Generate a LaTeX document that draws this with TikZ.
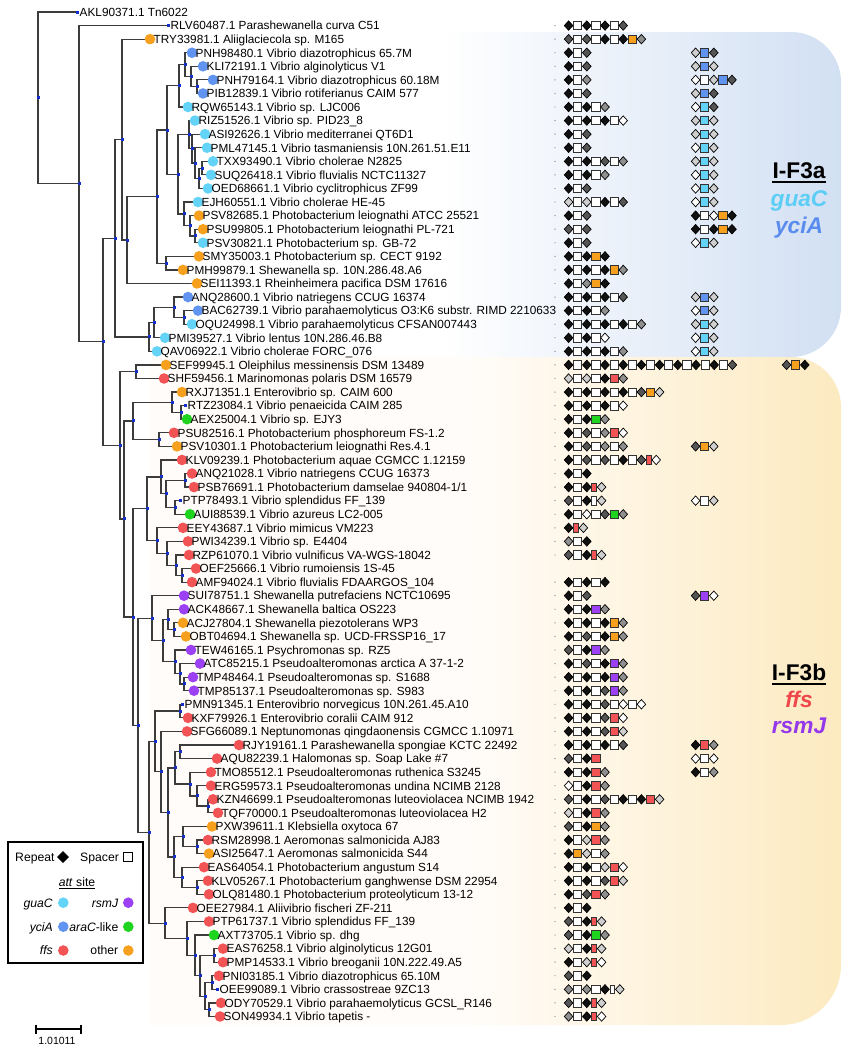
\documentclass[tikz,border=0pt]{standalone}
\usepackage{fontspec}
\setmainfont{Liberation Sans}
\usetikzlibrary{calc}
\pgfdeclarelayer{bg}\pgfdeclarelayer{edges}\pgfsetlayers{bg,edges,main}
\definecolor{cO}{HTML}{F7A01E}
\definecolor{cB}{HTML}{6193F0}
\definecolor{cC}{HTML}{63D3F7}
\definecolor{cR}{HTML}{F25355}
\definecolor{cG}{HTML}{1FD41F}
\definecolor{cP}{HTML}{9B40F2}
\definecolor{ndc}{HTML}{1530C8}
\definecolor{brc}{HTML}{3C3C3C}
\definecolor{dK}{HTML}{111111}
\definecolor{dD}{HTML}{555555}
\definecolor{dG}{HTML}{8F8F8F}
\definecolor{dL}{HTML}{CFCFCF}
\definecolor{bsR}{HTML}{D2E0F3}
\definecolor{osR}{HTML}{FCEAC0}
\definecolor{osL}{HTML}{FFFCF9}
\definecolor{tC}{HTML}{5CCDF5}
\definecolor{tB}{HTML}{5A8BEE}
\definecolor{tR}{HTML}{F0484A}
\definecolor{tP}{HTML}{9438EC}
\pgfdeclarehorizontalshading{bshade}{100bp}{color(0bp)=(white); color(46bp)=(white); color(75bp)=(bsR); color(100bp)=(bsR)}
\pgfdeclarehorizontalshading{oshade}{100bp}{color(0bp)=(osL); color(48bp)=(osL); color(75bp)=(osR); color(100bp)=(osR)}
\tikzset{
 br/.style={draw=brc, line width=1.2pt, line join=miter},
 nd/.style={rectangle, fill=ndc, inner sep=0pt, minimum size=3pt},
 ldot/.style={circle, inner sep=0pt, minimum size=10.6pt},
 lab/.style={anchor=base west, inner sep=0pt, font=\fontsize{11.8}{13}\selectfont},
 lgt/.style={inner sep=0pt, font=\fontsize{12.2}{14}\selectfont},
 grp/.style={inner sep=0pt, anchor=base, font=\fontsize{22.7}{26}\selectfont\bfseries},
 dmst/.style={draw=black, line width=0.7pt, line join=miter},
 sqst/.style={draw=black!80, line width=0.7pt},
}
\newcommand\leafc[4]{\node[ldot, fill=#3] (L#1) at (#2,#1) {};
  \node[lab] (T#1) at ([xshift=3.5pt,yshift=-4.3pt]L#1.center) {#4};}
\newcommand\leafn[3]{\node[nd] (L#1) at (#2,#1) {};
  \node[lab] (T#1) at ([xshift=2.5pt,yshift=-4.3pt]L#1.center) {#3};}
\newcommand\inode[3]{\node[nd] (#1) at (#2,#3) {};}
\newcommand\ed[2]{\foreach \chn in {#2}{\draw[br] (#1.center) |- (\chn.center);}}
\newcommand\dm[1]{\filldraw[dmst, fill=#1] (\cx,\crow) ++(0.3pt,0pt) -- ++(4.3pt,4.7pt) -- ++(4.3pt,-4.7pt) -- ++(-4.3pt,-4.7pt) -- cycle;
  \pgfmathsetmacro\crtmp{\cx+9.1}\xdef\cx{\crtmp}}
\newcommand\sq[2]{\filldraw[sqst, fill=#1] ([xshift=0.45pt,yshift=-4.2pt]\cx,\crow) rectangle ++(#2pt,8.4pt);
  \pgfmathsetmacro\crtmp{\cx+#2+0.9}\xdef\cx{\crtmp}}
\def\arrelK{\dm{dK}}\def\arrelD{\dm{dD}}\def\arrelG{\dm{dG}}\def\arrelL{\dm{dL}}\def\arrelW{\dm{white}}
\def\arrels{\sq{white}{8.2}}\def\arrelo{\sq{cO}{8.2}}\def\arrelb{\sq{cB}{8.2}}\def\arrelc{\sq{cC}{8.2}}
\def\arrelr{\sq{cR}{8.2}}\def\arrelg{\sq{cG}{8.2}}\def\arrelp{\sq{cP}{8.2}}
\def\arreln{\sq{cR}{4.8}}\def\arrelm{\sq{white}{4.8}}
\newcommand\arr[3]{\xdef\cx{#1}\xdef\crow{#2}\foreach \arrk in {#3}{\csname arrel\arrk\endcsname}}
\begin{document}
\begin{tikzpicture}[x=1pt,y=-1pt]
\useasboundingbox (0,0) rectangle (850,1050);
\begin{pgfonlayer}{bg}
\shade[shading=bshade] (150,32) -- (791,32) .. controls (818.6,32) and (841,54.4) .. (841,82) -- (841,307) .. controls (841,334.6) and (818.6,357) .. (791,357) -- (150,357) -- cycle;
\shade[shading=oshade] (150,357) -- (791,357) .. controls (818.6,357) and (841,379.4) .. (841,407) -- (841,965) .. controls (841,998) and (814,1025) .. (781,1025) -- (150,1025) -- cycle;
\end{pgfonlayer}
\begin{scope}[y=-13.574pt, yshift=1.574pt]
\leafn{1}{77}{AKL90371.1 Tn6022}
\leafn{2}{168}{RLV60487.1 Parashewanella curva C51}
\leafc{3}{150}{cO}{TRY33981.1 Aliiglaciecola sp. M165}
\leafc{4}{192}{cB}{PNH98480.1 Vibrio diazotrophicus 65.7M}
\leafc{5}{203}{cB}{KLI72191.1 Vibrio alginolyticus V1}
\leafc{6}{213}{cB}{PNH79164.1 Vibrio diazotrophicus 60.18M}
\leafc{7}{203}{cB}{PIB12839.1 Vibrio rotiferianus CAIM 577}
\leafc{8}{188}{cC}{RQW65143.1 Vibrio sp. LJC006}
\leafc{9}{195}{cC}{RIZ51526.1 Vibrio sp. PID23\_8}
\leafc{10}{205}{cC}{ASI92626.1 Vibrio mediterranei QT6D1}
\leafc{11}{207}{cC}{PML47145.1 Vibrio tasmaniensis 10N.261.51.E11}
\leafc{12}{213}{cC}{TXX93490.1 Vibrio cholerae N2825}
\leafc{13}{211}{cC}{SUQ26418.1 Vibrio fluvialis NCTC11327}
\leafc{14}{208}{cC}{OED68661.1 Vibrio cyclitrophicus ZF99}
\leafc{15}{198}{cC}{EJH60551.1 Vibrio cholerae HE-45}
\leafc{16}{199}{cO}{PSV82685.1 Photobacterium leiognathi ATCC 25521}
\leafc{17}{203}{cO}{PSU99805.1 Photobacterium leiognathi PL-721}
\leafc{18}{203}{cC}{PSV30821.1 Photobacterium sp. GB-72}
\leafc{19}{199}{cO}{SMY35003.1 Photobacterium sp. CECT 9192}
\leafc{20}{183}{cO}{PMH99879.1 Shewanella sp. 10N.286.48.A6}
\leafc{21}{197}{cO}{SEI11393.1 Rheinheimera pacifica DSM 17616}
\leafc{22}{188}{cB}{ANQ28600.1 Vibrio natriegens CCUG 16374}
\leafc{23}{198}{cB}{BAC62739.1 Vibrio parahaemolyticus O3:K6 substr. RIMD 2210633}
\leafc{24}{192}{cC}{OQU24998.1 Vibrio parahaemolyticus CFSAN007443}
\leafc{25}{165}{cC}{PMI39527.1 Vibrio lentus 10N.286.46.B8}
\leafc{26}{157}{cC}{QAV06922.1 Vibrio cholerae FORC\_076}
\leafc{27}{166}{cO}{SEF99945.1 Oleiphilus messinensis DSM 13489}
\leafc{28}{164}{cR}{SHF59456.1 Marinomonas polaris DSM 16579}
\leafc{29}{182}{cO}{RXJ71351.1 Enterovibrio sp. CAIM 600}
\leafn{30}{185}{RTZ23084.1 Vibrio penaeicida CAIM 285}
\leafc{31}{187}{cG}{AEX25004.1 Vibrio sp. EJY3}
\leafc{32}{174}{cR}{PSU82516.1 Photobacterium phosphoreum FS-1.2}
\leafc{33}{177}{cO}{PSV10301.1 Photobacterium leiognathi Res.4.1}
\leafc{34}{182}{cR}{KLV09239.1 Photobacterium aquae CGMCC 1.12159}
\leafc{35}{192}{cR}{ANQ21028.1 Vibrio natriegens CCUG 16373}
\leafc{36}{194}{cR}{PSB76691.1 Photobacterium damselae 940804-1/1}
\leafn{37}{180}{PTP78493.1 Vibrio splendidus FF\_139}
\leafc{38}{190}{cG}{AUI88539.1 Vibrio azureus LC2-005}
\leafc{39}{183}{cR}{EEY43687.1 Vibrio mimicus VM223}
\leafc{40}{188}{cR}{PWI34239.1 Vibrio sp. E4404}
\leafc{41}{189}{cR}{RZP61070.1 Vibrio vulnificus VA-WGS-18042}
\leafc{42}{196}{cR}{OEF25666.1 Vibrio rumoiensis 1S-45}
\leafc{43}{192}{cR}{AMF94024.1 Vibrio fluvialis FDAARGOS\_104}
\leafc{44}{184}{cP}{SUI78751.1 Shewanella putrefaciens NCTC10695}
\leafc{45}{184}{cP}{ACK48667.1 Shewanella baltica OS223}
\leafc{46}{183}{cO}{ACJ27804.1 Shewanella piezotolerans WP3}
\leafc{47}{186}{cO}{OBT04694.1 Shewanella sp. UCD-FRSSP16\_17}
\leafc{48}{191}{cP}{TEW46165.1 Psychromonas sp. RZ5}
\leafc{49}{200}{cP}{ATC85215.1 Pseudoalteromonas arctica A 37-1-2}
\leafc{50}{193}{cP}{TMP48464.1 Pseudoalteromonas sp. S1688}
\leafc{51}{194}{cP}{TMP85137.1 Pseudoalteromonas sp. S983}
\leafn{52}{182}{PMN91345.1 Enterovibrio norvegicus 10N.261.45.A10}
\leafc{53}{188}{cR}{KXF79926.1 Enterovibrio coralii CAIM 912}
\leafc{54}{187}{cR}{SFG66089.1 Neptunomonas qingdaonensis CGMCC 1.10971}
\leafc{55}{239}{cR}{RJY19161.1 Parashewanella spongiae KCTC 22492}
\leafc{56}{217}{cR}{AQU82239.1 Halomonas sp. Soap Lake \#7}
\leafc{57}{211}{cR}{TMO85512.1 Pseudoalteromonas ruthenica S3245}
\leafc{58}{211}{cR}{ERG59573.1 Pseudoalteromonas undina NCIMB 2128}
\leafc{59}{213}{cR}{KZN46699.1 Pseudoalteromonas luteoviolacea NCIMB 1942}
\leafc{60}{218}{cR}{TQF70000.1 Pseudoalteromonas luteoviolacea H2}
\leafc{61}{212}{cO}{PXW39611.1 Klebsiella oxytoca 67}
\leafc{62}{208}{cR}{RSM28998.1 Aeromonas salmonicida AJ83}
\leafc{63}{209}{cO}{ASI25647.1 Aeromonas salmonicida S44}
\leafc{64}{204}{cR}{EAS64054.1 Photobacterium angustum S14}
\leafc{65}{208}{cR}{KLV05267.1 Photobacterium ganghwense DSM 22954}
\leafc{66}{209}{cR}{OLQ81480.1 Photobacterium proteolyticum 13-12}
\leafc{67}{193}{cR}{OEE27984.1 Aliivibrio fischeri ZF-211}
\leafc{68}{209}{cR}{PTP61737.1 Vibrio splendidus FF\_139}
\leafc{69}{214}{cG}{AXT73705.1 Vibrio sp. dhg}
\leafc{70}{223}{cR}{EAS76258.1 Vibrio alginolyticus 12G01}
\leafc{71}{223}{cR}{PMP14533.1 Vibrio breoganii 10N.222.49.A5}
\leafc{72}{219}{cR}{PNI03185.1 Vibrio diazotrophicus 65.10M}
\leafn{73}{217}{OEE99089.1 Vibrio crassostreae 9ZC13}
\leafc{74}{221}{cR}{ODY70529.1 Vibrio parahaemolyticus GCSL\_R146}
\leafc{75}{220}{cR}{SON49934.1 Vibrio tapetis -}
% internal nodes
\inode{R}{38}{7.32}\inode{N1}{79}{13.65}\inode{N2}{103}{25.30}\inode{N3}{115}{17.67}
\inode{N4}{120}{32.92}\inode{N5}{122}{10.40}\inode{N6}{127}{17.80}\inode{N7}{157}{14.60}
\inode{N8}{167}{9.695}\inode{N9}{166}{19.5}\inode{N10}{179}{6.4375}\inode{N11}{185}{4.875}
\inode{N12}{191}{5.75}\inode{N13}{197}{6.5}\inode{N14}{178}{12.953}
\inode{NB}{189}{10.03}\inode{NB2}{192}{11.0625}\inode{NB3}{195}{12.125}\inode{NB4}{199}{13.25}\inode{NB5}{202}{12.5}
\inode{NC}{184}{15.875}\inode{NC2}{190}{16.75}\inode{NC3}{195}{17.5}
\inode{NV}{149}{24.9375}\inode{NV1}{154}{23.875}\inode{NV2}{174}{22.75}\inode{NV3}{184}{23.5}
\inode{NA}{136}{27.5}\inode{NX}{124}{38.35}\inode{NY}{133}{31.125}\inode{NY1}{172}{29.75}
\inode{NY1b}{181}{30.5}\inode{NY2}{159}{32.5}
\inode{NZ}{133}{45.57}\inode{NZa}{147}{37.59}\inode{Q1}{161}{35.25}\inode{Qa}{185}{35.5}
\inode{Qb}{175}{37.5}\inode{Qc}{166}{36.5}\inode{Q2}{157}{39.94}\inode{Q2b}{167}{40.875}
\inode{Q2c}{176}{41.75}\inode{Q2d}{182}{42.5}
\inode{NZb}{138}{53.54}\inode{NS}{152}{45.656}\inode{NS1}{163}{47.31}\inode{S1}{174}{46.5}
\inode{S2}{168}{45.75}\inode{S3}{184}{50.5}\inode{S4}{180}{49.75}\inode{S5}{175}{48.875}
\inode{NT}{149}{61.43}\inode{NT1}{155}{54.74}\inode{NT1a}{180}{52.5}\inode{NT1b}{161}{56.98}
\inode{NT1c}{168}{59.97}\inode{RA}{180}{55.5}\inode{TK}{208}{59.5}\inode{TE}{197}{58.75}
\inode{TM}{190}{57.875}\inode{RB}{175}{56.69}\inode{RS}{197}{62.5}\inode{NK}{183}{61.75}
\inode{EK}{197}{65.5}\inode{EA}{182}{64.75}\inode{NK2}{174}{63.25}
\inode{NT2}{165}{68.125}\inode{NU}{187}{69.25}\inode{P6}{195}{70.5}\inode{P5}{200}{72}
\inode{P1}{214}{70.5}\inode{P4}{205}{73.5}\inode{P2}{212}{72.5}\inode{P3}{209}{74.5}
\begin{pgfonlayer}{edges}
\ed{R}{L1,N1}\ed{N1}{L2,N2}\ed{N2}{N3,N4}\ed{N3}{N5,NV}\ed{N5}{L3,N6}\ed{N6}{N7,L21}
\ed{N7}{N8,N9}\ed{N9}{L19,L20}\ed{N8}{N10,N14}\ed{N10}{N11,L8}\ed{N11}{L4,N12}
\ed{N12}{L5,N13}\ed{N13}{L6,L7}\ed{N14}{NB,NC}\ed{NB}{L9,NB2}\ed{NB2}{L10,NB3}
\ed{NB3}{L11,NB4}\ed{NB4}{NB5,L14}\ed{NB5}{L12,L13}\ed{NC}{L15,NC2}\ed{NC2}{L16,NC3}
\ed{NC3}{L17,L18}\ed{NV}{NV1,L26}\ed{NV1}{NV2,L25}\ed{NV2}{L22,NV3}\ed{NV3}{L23,L24}
\ed{N4}{NA,NX}\ed{NA}{L27,L28}\ed{NX}{NY,NZ}\ed{NY}{NY1,NY2}\ed{NY1}{L29,NY1b}
\ed{NY1b}{L30,L31}\ed{NY2}{L32,L33}\ed{NZ}{NZa,NZb}\ed{NZa}{Q1,Q2}\ed{Q1}{L34,Qc}
\ed{Qc}{Qa,Qb}\ed{Qa}{L35,L36}\ed{Qb}{L37,L38}\ed{Q2}{L39,Q2b}\ed{Q2b}{L40,Q2c}
\ed{Q2c}{L41,Q2d}\ed{Q2d}{L42,L43}\ed{NZb}{NS,NT}\ed{NS}{L44,NS1}\ed{NS1}{S2,S5}
\ed{S2}{L45,S1}\ed{S1}{L46,L47}\ed{S5}{L48,S4}\ed{S4}{L49,S3}\ed{S3}{L50,L51}
\ed{NT}{NT1,NT2}\ed{NT1}{NT1a,NT1b}\ed{NT1a}{L52,L53}\ed{NT1b}{L54,NT1c}\ed{NT1c}{RB,NK2}
\ed{RB}{RA,TM}\ed{RA}{L55,L56}\ed{TM}{L57,TE}\ed{TE}{L58,TK}\ed{TK}{L59,L60}
\ed{NK2}{NK,EA}\ed{NK}{L61,RS}\ed{RS}{L62,L63}\ed{EA}{L64,EK}\ed{EK}{L65,L66}
\ed{NT2}{L67,NU}\ed{NU}{L68,P6}\ed{P6}{L69,P5}\ed{P5}{P1,P4}\ed{P1}{L70,L71}
\ed{P4}{P2,P3}\ed{P2}{L72,L73}\ed{P3}{L74,L75}
\end{pgfonlayer}
% small dots
\foreach \r in {2,...,22}{\fill[black!45] (555,\r) circle (0.7pt);}
\foreach \r in {24,...,41}{\fill[black!45] (555,\r) circle (0.7pt);}
\foreach \r in {43,...,75}{\fill[black!45] (555,\r) circle (0.7pt);}
% arrays
\arr{564}{2}{K,s,K,s,K,s,D}
\arr{564}{3}{D,s,D,s,K,s,K,o,G}
\arr{564}{4}{K,s,D}\arr{691}{4}{L,b,D}
\arr{564}{5}{K,s,D}\arr{691}{5}{L,b,L}
\arr{564}{6}{K,s,G}\arr{691}{6}{W,s,L,b,D}
\arr{564}{7}{K,s,D}\arr{691}{7}{L,b,D}
\arr{564}{8}{K,s,K,s,G}\arr{691}{8}{W,c,D}
\arr{564}{9}{K,s,K,s,K,s,W}\arr{691}{9}{L,c,L}
\arr{564}{10}{K,s,D}\arr{691}{10}{L,c,L}
\arr{564}{11}{K,s,D}\arr{691}{11}{W,c,L}
\arr{564}{12}{K,s,K,s,D,s,G}\arr{691}{12}{L,c,L}
\arr{564}{13}{K,s,K,s,G}\arr{691}{13}{W,c,L}
\arr{564}{14}{K,s,D}\arr{691}{14}{W,c,L}
\arr{564}{15}{L,s,L,s,K,s,D}\arr{691}{15}{W,c,L}
\arr{564}{16}{K,s,D}\arr{691}{16}{K,s,W,o,K}
\arr{564}{17}{D,s,D}\arr{691}{17}{K,s,K,o,K}
\arr{564}{18}{K,s,D}\arr{691}{18}{W,c,L}
\arr{564}{19}{K,s,K,o,K}
\arr{564}{20}{K,s,K,s,K,o,G}
\arr{564}{21}{K,s,G,o,K}
\arr{564}{22}{K,s,K,s,K,s,D}\arr{691}{22}{L,b,L}
\arr{564}{23}{K,s,K,s,G}\arr{691}{23}{W,b,L}
\arr{564}{24}{K,s,K,s,K,s,K,s,G}\arr{691}{24}{L,c,L}
\arr{564}{25}{K,s,K,s,W}\arr{691}{25}{W,c,L}
\arr{564}{26}{K,s,K,s,K,s,G}\arr{691}{26}{W,c,L}
\arr{564}{27}{K,s,K,s,K,s,K,s,K,s,K,s,K,s,K,s,K,s,D}\arr{782}{27}{D,o,K}
\arr{564}{28}{L,s,L,s,K,r,G}
\arr{564}{29}{K,s,K,s,K,s,K,s,D,o,L}
\arr{564}{30}{K,s,K,s,K,s,W}
\arr{564}{31}{K,s,K,g,G}
\arr{564}{32}{K,s,D,s,G,r,W}
\arr{564}{33}{K,s,D,s,G,s,G}\arr{691}{33}{D,o,L}
\arr{564}{34}{K,s,D,s,D,s,K,s,D,n,W}
\arr{564}{35}{K,s,K}
\arr{564}{36}{K,s,K,n,L}
\arr{564}{37}{D,s,K,m,L}\arr{691}{37}{W,s,L}
\arr{564}{38}{K,s,W,s,D,g,G}
\arr{564}{39}{K,n,L}
\arr{564}{40}{G,s,K}
\arr{564}{41}{D,s,K,n,L}
\arr{564}{43}{K,s,K,s,K}
\arr{564}{44}{K,s,D}\arr{691}{44}{D,p,W}
\arr{564}{45}{K,s,K,p,G}
\arr{564}{46}{K,s,K,s,K,o,G}
\arr{564}{47}{K,s,D,s,K,o,G}
\arr{564}{48}{D,s,K,p,G}
\arr{564}{49}{K,s,D,s,K,p,G}
\arr{564}{50}{K,s,K,s,K,p,G}
\arr{564}{51}{K,s,K,s,D,p,G}
\arr{564}{52}{K,s,K,s,D,s,W,s,W}
\arr{564}{53}{K,s,K,s,D,r,W}
\arr{564}{54}{K,s,K,s,D,r,L}
\arr{564}{55}{K,s,K,s,K,s,D}\arr{691}{55}{K,r,G}
\arr{564}{56}{D,s,K,r}\arr{691}{56}{W,s,W}
\arr{564}{57}{K,s,K,r,G}\arr{691}{57}{K,s,G}
\arr{564}{58}{W,s,K,r,G}
\arr{564}{59}{D,s,K,s,D,s,K,s,K,r,L}
\arr{564}{60}{L,s,K,r,G}
\arr{564}{61}{D,s,K,o,G}
\arr{564}{62}{K,s,L,r,G}
\arr{564}{63}{K,o,L,s,G}
\arr{564}{64}{K,s,K,s,L,r,W}
\arr{564}{65}{K,s,K,s,D,r,L}
\arr{564}{66}{K,s,D,r,G}
\arr{564}{67}{K,s,K}
\arr{564}{68}{D,s,K,n,L}
\arr{564}{69}{D,s,K,g,G}
\arr{564}{70}{L,s,K,n,L}
\arr{564}{71}{K,s,L,n,W}
\arr{564}{72}{D,s,K}
\arr{564}{73}{G,s,G,s,K,m,L}
\arr{564}{74}{D,s,K,n,L}
\arr{564}{75}{G,s,K,n,W}
\end{scope}
% group labels
\node[grp] (gA) at (799,178) {I-F3a};
\draw[line width=2pt] ([yshift=-3.8pt]gA.base west) -- ([yshift=-3.8pt]gA.base east);
\node[grp, text=tC] (gA1) at (799,206) {\itshape guaC};
\node[grp, text=tB] (gA2) at (799,233) {\itshape yciA};
\node[grp] (gB) at (799,680) {I-F3b};
\draw[line width=2pt] ([yshift=-3.8pt]gB.base west) -- ([yshift=-3.8pt]gB.base east);
\node[grp, text=tR] (gB1) at (799,707) {\itshape ffs};
\node[grp, text=tP] (gB2) at (799,733) {\itshape rsmJ};
% legend
\draw[line width=1.8pt, fill=white] (8,842) rectangle (143,963);
\node[lgt, anchor=base west] (lgR) at (15,861) {Repeat};
\filldraw[fill=black, draw=black] (57.5,857) -- (63,851.5) -- (68.5,857) -- (63,862.5) -- cycle;
\node[lgt, anchor=base west] (lgS) at (80,861) {Spacer};
\draw[fill=white, line width=0.9pt] (123,852.5) rectangle (132,861.5);
\node[lgt, anchor=base] (lgA) at (77,886) {\textit{att} site};
\draw[line width=0.8pt] ([yshift=-2pt]lgA.base west) -- ([yshift=-2pt]lgA.base east);
\node[lgt, anchor=base east] (lg1) at (53,907) {\textit{guaC}};
\fill[cC] (63.3,902.7) circle (5.3pt);
\node[lgt, anchor=base east] (lg2) at (118.5,907) {\textit{rsmJ}};
\fill[cP] (128.3,902.7) circle (5.3pt);
\node[lgt, anchor=base east] (lg3) at (53,931) {\textit{yciA}};
\fill[cB] (63.3,926.7) circle (5.3pt);
\node[lgt, anchor=base east] (lg4) at (118.5,931) {\textit{araC}-like};
\fill[cG] (128.3,926.7) circle (5.3pt);
\node[lgt, anchor=base east] (lg5) at (53,954.5) {\textit{ffs}};
\fill[cR] (63.3,950.5) circle (5.3pt);
\node[lgt, anchor=base east] (lg6) at (118.5,954.5) {other};
\fill[cO] (128.3,950.5) circle (5.3pt);
% scale bar
\draw[line width=1.2pt] (36,1024.5) -- (36,1033.5) (36,1029) -- (81,1029) (81,1024.5) -- (81,1033.5);
\node[inner sep=0pt, anchor=base, font=\fontsize{10.5}{12}\selectfont] (sc) at (57,1044) {1.01011};
\end{tikzpicture}
\end{document}
